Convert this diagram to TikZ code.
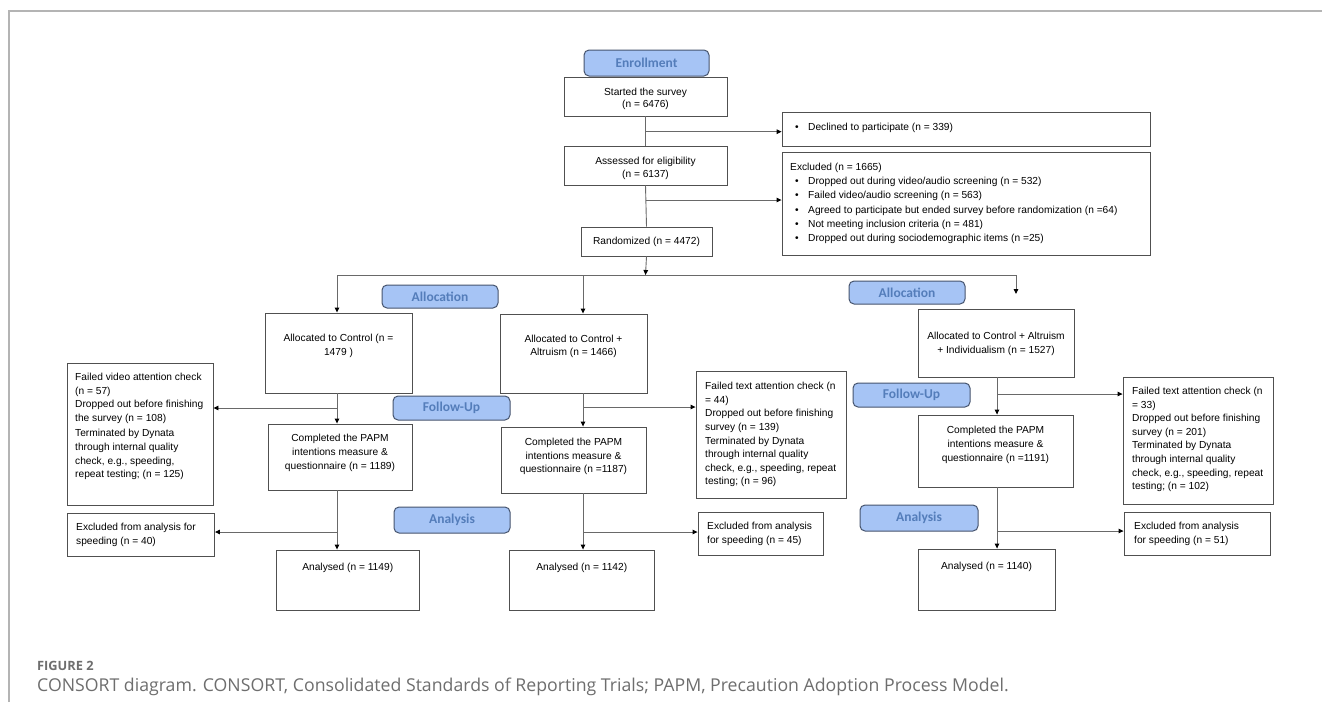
\documentclass[tikz,border=0pt]{standalone}
\usepackage{fontspec}
\setmainfont{Liberation Sans}
\newfontfamily\stagefont{Carlito}
\newfontfamily\capfont{Open Sans}
\usetikzlibrary{arrows.meta}

\definecolor{lblfill}{RGB}{166,196,245}
\definecolor{lbldraw}{RGB}{70,84,110}
\definecolor{lbltext}{RGB}{84,125,186}
\definecolor{boxdraw}{RGB}{80,80,80}
\definecolor{linecol}{RGB}{105,105,105}
\definecolor{framecol}{RGB}{180,180,180}
\definecolor{capgray}{RGB}{110,110,110}

\tikzset{
  box/.style={draw=boxdraw, line width=0.9pt, inner sep=0pt, fill=white},
  stage/.style={draw=lbldraw, fill=lblfill, rounded corners=5pt, line width=1pt,
    minimum width=117pt, minimum height=24pt, inner sep=0pt,
    font=\stagefont\bfseries\fontsize{13.5}{14}\selectfont, text=lbltext},
  txt/.style={inner sep=0pt, align=center},
  ltxt/.style={inner sep=0pt, align=left},
  fs/.style={font=\fontsize{10.2}{#1}\selectfont},
  conn/.style={draw=linecol, line width=0.9pt},
  arr/.style={conn, -{Triangle[length=5pt,width=4.6pt,color=black]}},
}
\newcommand{\bul}{\makebox[13pt][l]{\textbullet}}

\begin{document}
\begin{tikzpicture}[x=1pt,y=-1pt]
\fill[white] (0,0) rectangle (1322,702);
\useasboundingbox (0,0) rectangle (1322,702);

% outer frame
\draw[framecol, line width=1.5pt] (9,702) -- (9,11) -- (1322,11);

% ---------- enrollment ----------
\node[stage, minimum width=125pt, minimum height=26pt] (enr) at (646.5,63) {Enrollment};
\node[box, minimum width=163pt, minimum height=39pt] (start) at (645.5,96.5) {};
\node[txt, fs=12, anchor=north] (start-t) at (645.5,88) {Started the survey\\(n = 6476)};
\node[box, minimum width=163pt, minimum height=39pt] (assess) at (645.5,165.5) {};
\node[txt, fs=12.5, anchor=north] (assess-t) at (645.5,157) {Assessed for eligibility\\(n = 6137)};
\node[box, minimum width=131pt, minimum height=29pt] (rand) at (646.5,241.5) {};
\node[txt, fs=12, anchor=center] (rand-t) at (646.5,241.5) {Randomized (n = 4472)};

\node[box, minimum width=368pt, minimum height=34pt] (decl) at (966,129) {};
\node[ltxt, fs=12, anchor=north west] (decl-t) at (795,123) {\bul Declined to participate (n = 339)};
\node[box, minimum width=368pt, minimum height=103pt] (excl) at (966,203.5) {};
\node[ltxt, fs=14.2, anchor=north west] (excl-t) at (790,163) {Excluded (n = 1665)\\
\hspace*{5pt}\bul Dropped out during video/audio screening (n = 532)\\
\hspace*{5pt}\bul Failed video/audio screening (n = 563)\\
\hspace*{5pt}\bul Agreed to participate but ended survey before randomization (n =64)\\
\hspace*{5pt}\bul Not meeting inclusion criteria (n = 481)\\
\hspace*{5pt}\bul Dropped out during sociodemographic items (n =25)};

\draw[conn] (start.south) -- (assess.north);
\draw[conn] (assess.south) -- (rand.north);
\coordinate (b1) at (645.5,131.7);
\coordinate (b2) at (645.5,200);
\draw[arr] (b1) -- (b1 -| decl.west);
\draw[arr] (b2) -- (b2 -| decl.west);

% split into three arms
\coordinate (hT) at (645.5,275);
\coordinate (hL) at (337,275);
\coordinate (hM) at (583,275);
\coordinate (hR) at (1016,275);
\coordinate (endR) at (1016,294);
\draw[arr] (rand.south) -- (hT);
\draw[conn] (hL) -- (hR);

% ---------- stage labels ----------
\node[stage, minimum width=116pt, minimum height=23pt] (allocL) at (440,296.5) {Allocation};
\node[stage, minimum width=116pt, minimum height=23pt] (allocR) at (907,292.5) {Allocation};
\node[stage] (folL) at (451.5,408) {Follow-Up};
\node[stage] (folR) at (911.5,395) {Follow-Up};
\node[stage, minimum width=116pt, minimum height=26pt] (anaL) at (452,520) {Analysis};
\node[stage, minimum width=118pt, minimum height=26pt] (anaR) at (919,518) {Analysis};

% ---------- left arm ----------
\node[box, minimum width=147pt, minimum height=80pt] (acL) at (338.5,353) {};
\node[txt, fs=14, anchor=north] (acL-t) at (338.5,334) {Allocated to Control (n =\\1479 )};
\node[box, minimum width=146pt, minimum height=142pt] (fvL) at (140,434) {};
\node[ltxt, fs=13.6, anchor=north west] (fvL-t) at (75,373) {Failed video attention check\\(n = 57)\\Dropped out before finishing\\the survey (n = 108)\\[2pt]Terminated by Dynata\\through internal quality\\check, e.g., speeding,\\repeat testing; (n = 125)};
\node[box, minimum width=144pt, minimum height=66pt] (cpL) at (340,457) {};
\node[txt, fs=14, anchor=north] (cpL-t) at (340,434) {Completed the PAPM\\intentions measure \&\\questionnaire (n = 1189)};
\node[box, minimum width=147pt, minimum height=43pt] (exL) at (141,534.5) {};
\node[ltxt, fs=14, anchor=north west] (exL-t) at (76,523) {Excluded from analysis for\\speeding (n = 40)};
\node[box, minimum width=143.5pt, minimum height=60pt] (anL) at (347.75,580) {};
\node[txt, fs=14, anchor=north] (anL-t) at (347.75,563) {Analysed (n = 1149)};

\coordinate (xL) at (337,0);
\draw[arr] (hL) -- (acL.north -| xL);
\draw[arr] (acL.south -| xL) -- (cpL.north -| xL);
\coordinate (bL1) at (337,408);
\draw[arr] (bL1) -- (bL1 -| fvL.east);
\draw[arr] (cpL.south -| xL) -- (anL.north -| xL);
\coordinate (bL2) at (337,532);
\draw[arr] (bL2) -- (bL2 -| exL.east);

% ---------- middle arm ----------
\node[box, minimum width=147pt, minimum height=79pt] (acM) at (573.5,353.5) {};
\node[txt, fs=13, anchor=north] (acM-t) at (573.5,335.3) {Allocated to Control +\\Altruism (n = 1466)};
\node[box, minimum width=150pt, minimum height=127pt] (ftM) at (771,434.5) {};
\node[ltxt, fs=13.6, anchor=north west] (ftM-t) at (705,382) {Failed text attention check (n\\= 44)\\Dropped out before finishing\\survey (n = 139)\\Terminated by Dynata\\through internal quality\\check, e.g., speeding, repeat\\testing; (n = 96)};
\node[box, minimum width=145pt, minimum height=66pt] (cpM) at (573.5,460) {};
\node[txt, fs=13.7, anchor=north] (cpM-t) at (573.5,437.7) {Completed the PAPM\\intentions measure \&\\questionnaire (n =1187)};
\node[box, minimum width=125.7pt, minimum height=43pt] (exM) at (760.85,533.5) {};
\node[ltxt, fs=14, anchor=north west] (exM-t) at (707,522) {Excluded from analysis\\for speeding (n = 45)};
\node[box, minimum width=144.4pt, minimum height=60pt] (anM) at (581.8,580) {};
\node[txt, fs=14, anchor=north] (anM-t) at (581.8,563) {Analysed (n = 1142)};

\coordinate (xM) at (583,0);
\draw[arr] (hM) -- (acM.north -| xM);
\draw[arr] (acM.south -| xM) -- (cpM.north -| xM);
\coordinate (bM1) at (583,407);
\draw[arr] (bM1) -- (bM1 -| ftM.west);
\draw[arr] (cpM.south -| xM) -- (anM.north -| xM);
\coordinate (bM2) at (583,532);
\draw[arr] (bM2) -- (bM2 -| exM.west);

% ---------- right arm ----------
\node[box, minimum width=156pt, minimum height=68pt] (acR) at (996,343) {};
\node[txt, fs=14.3, anchor=north] (acR-t) at (996,331.7) {Allocated to Control + Altruism\\+ Individualism (n = 1527)};
\node[box, minimum width=150pt, minimum height=127pt] (ftR) at (1198,440.5) {};
\node[ltxt, fs=13.6, anchor=north west] (ftR-t) at (1132,387) {Failed text attention check (n\\= 33)\\Dropped out before finishing\\survey (n = 201)\\Terminated by Dynata\\through internal quality\\check, e.g., speeding, repeat\\testing; (n = 102)};
\node[box, minimum width=155pt, minimum height=72pt] (cpR) at (995.5,451) {};
\node[txt, fs=14, anchor=north] (cpR-t) at (995.5,426) {Completed the PAPM\\intentions measure \&\\questionnaire (n =1191)};
\node[box, minimum width=146pt, minimum height=43pt] (exR) at (1197,533.5) {};
\node[ltxt, fs=14, anchor=north west] (exR-t) at (1134,522) {Excluded from analysis\\for speeding (n = 51)};
\node[box, minimum width=137pt, minimum height=61pt] (anR) at (986.5,579.5) {};
\node[txt, fs=14, anchor=north] (anR-t) at (986.5,562) {Analysed (n = 1140)};

\coordinate (xR) at (997,0);
\draw[arr] (hR) -- (endR);
\draw[arr] (acR.south -| xR) -- (cpR.north -| xR);
\coordinate (bR1) at (997,394);
\draw[arr] (bR1) -- (bR1 -| ftR.west);
\draw[arr] (cpR.south -| xR) -- (anR.north -| xR);
\coordinate (bR2) at (997,531);
\draw[arr] (bR2) -- (bR2 -| exR.west);

% ---------- caption ----------
\node[anchor=base west, inner sep=0pt, font=\capfont\bfseries\fontsize{12.8}{14}\selectfont, text=capgray] (figno) at (37,670) {FIGURE 2};
\node[anchor=base west, inner sep=0pt, font=\capfont\fontsize{17.7}{20}\selectfont, text=capgray] (caption) at (37,691) {CONSORT diagram. CONSORT, Consolidated Standards of Reporting Trials; PAPM, Precaution Adoption Process Model.};
\end{tikzpicture}
\end{document}
